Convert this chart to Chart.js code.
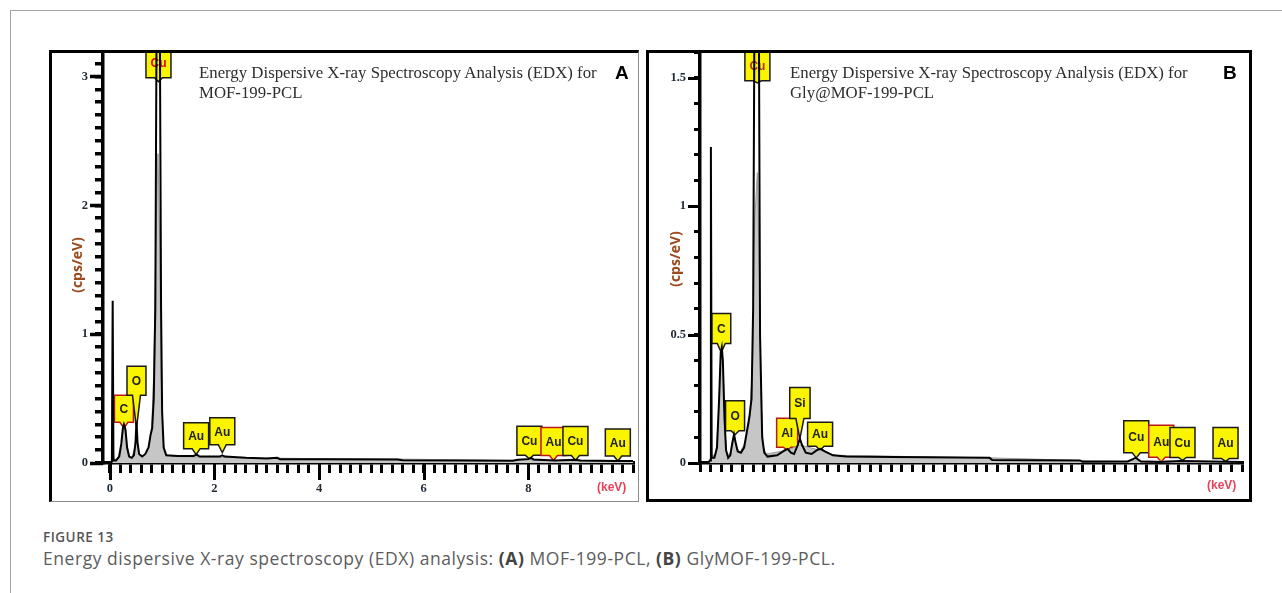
<!DOCTYPE html>
<html lang="en">
<head>
<meta charset="utf-8">
<title>EDX spectra</title>
<script src="https://cdn.jsdelivr.net/npm/chart.js@4.4.1/dist/chart.umd.min.js"></script>
<style>
  html, body { margin: 0; padding: 0; background: #fff; }
  body { position: relative; width: 1282px; height: 593px; overflow: hidden; }
  .sheet { position: absolute; left: 10px; top: 10px; width: 1290px; height: 600px; border-left: 1px solid #a3a3a3; border-top: 1px solid #a3a3a3; }
  canvas { position: absolute; }
  #edxA { left: 49px; top: 50px; }
  #edxB { left: 646px; top: 50px; }
  .frame { position: absolute; box-sizing: border-box; pointer-events: none; }
  #frameA { left: 49px; top: 50px; width: 590px; height: 452px; border-left: 3px solid #000; border-top: 3px solid #000; border-right: 1px solid #8c8c8c; border-bottom: 1px solid #8c8c8c; }
  #frameB { left: 646px; top: 50px; width: 606px; height: 452px; border: 3px solid #000; }
  .heading { position: absolute; top: 63px; font: 16.8px/20px 'Liberation Serif', 'Times New Roman', serif; color: #2e2e2e; white-space: nowrap; }
  .tag { position: absolute; top: 63px; font: bold 19px/20px 'Liberation Sans', Arial, sans-serif; color: #000; }
  .ytitle { position: absolute; width: 100px; height: 18px; margin-left: -50px; margin-top: -9px; text-align: center; font: bold 14px/18px 'Open Sans', sans-serif; color: #9b4a1c; transform: rotate(-90deg); }
  .unit { position: absolute; font: bold 12px/14px 'Liberation Sans', sans-serif; color: #e8415a; }
  .fig-no { position: absolute; left: 43px; top: 529px; font: 600 13.5px/16px 'Open Sans', sans-serif; letter-spacing: 0.5px; color: #555; }
  .caption { position: absolute; left: 43px; top: 547px; font: 17.5px/22px 'Open Sans', sans-serif; letter-spacing: 0.55px; color: #5c5c5c; white-space: nowrap; }
  .caption b { color: #444; }
</style>
</head>
<body>
<div class="sheet"></div>

<canvas id="edxA" width="590" height="452"></canvas>
<div class="frame" id="frameA"></div>
<div class="heading" style="left:199px">Energy Dispersive X-ray Spectroscopy Analysis (EDX) for<br>MOF-199-PCL</div>
<div class="tag" style="left:615px">A</div>
<div class="ytitle" style="left:77px; top:265px">(cps/eV)</div>
<div class="unit" style="left:597px; top:480px">(keV)</div>

<canvas id="edxB" width="606" height="452"></canvas>
<div class="frame" id="frameB"></div>
<div class="heading" style="left:790px">Energy Dispersive X-ray Spectroscopy Analysis (EDX) for<br>Gly@MOF-199-PCL</div>
<div class="tag" style="left:1223px">B</div>
<div class="ytitle" style="left:675px; top:259px">(cps/eV)</div>
<div class="unit" style="left:1207px; top:478px">(keV)</div>

<div class="fig-no">FIGURE 13</div>
<div class="caption">Energy dispersive X-ray spectroscopy (EDX) analysis: <b>(A)</b> MOF-199-PCL, <b>(B)</b> GlyMOF-199-PCL.</div>

<script>
// --- MOF-199-PCL ---
const traceKevA = [0.00, 0.04, 0.055, 0.07, 0.12, 0.18, 0.22, 0.25, 0.27, 0.30, 0.33, 0.37, 0.42, 0.46, 0.49, 0.51, 0.53, 0.56, 0.62, 0.68, 0.74, 0.78, 0.81, 0.84, 0.87, 0.90, 0.95, 0.98, 1.00, 1.03, 1.08, 1.30, 1.60, 1.66, 1.72, 2.10, 2.15, 2.20, 2.60, 3.00, 3.20, 3.25, 3.70, 4.00, 5.50, 5.60, 7.70, 7.80, 8.00, 8.05, 8.10, 8.50, 8.90, 9.00, 9.70, 10.00];
const traceCpsA = [0.00, 0.01, 1.26, 0.02, 0.02, 0.05, 0.15, 0.27, 0.30, 0.26, 0.12, 0.05, 0.04, 0.06, 0.15, 0.32, 0.16, 0.07, 0.05, 0.07, 0.12, 0.22, 0.27, 0.50, 1.20, 4.00, 4.00, 1.20, 0.40, 0.12, 0.06, 0.055, 0.055, 0.065, 0.05, 0.05, 0.06, 0.05, 0.04, 0.035, 0.04, 0.03, 0.03, 0.03, 0.028, 0.022, 0.018, 0.025, 0.03, 0.04, 0.028, 0.02, 0.025, 0.02, 0.015, 0.015];
const shadeKevA = [0.00, 0.04, 0.06, 0.08, 0.15, 0.22, 0.27, 0.31, 0.36, 0.42, 0.48, 0.51, 0.54, 0.58, 0.66, 0.74, 0.80, 0.84, 0.88, 0.92, 0.95, 0.98, 1.01, 1.05, 1.20, 2.00, 2.60, 3.70, 5.60, 7.70, 8.00, 8.10, 10.00];
const shadeCpsA = [0.00, 0.02, 0.10, 0.03, 0.03, 0.15, 0.29, 0.20, 0.06, 0.04, 0.12, 0.26, 0.12, 0.05, 0.06, 0.12, 0.28, 0.70, 1.70, 2.40, 1.80, 0.70, 0.20, 0.07, 0.05, 0.045, 0.04, 0.035, 0.03, 0.02, 0.035, 0.02, 0.012];
const peakNamesA = ['Cu', 'C', 'O', 'Au', 'Au', 'Cu', 'Au', 'Cu', 'Au'];
const peakKevA = [0.93, 0.27, 0.51, 1.65, 2.15, 8.02, 8.48, 8.90, 9.71];
const peakCpsA = [2.96, 0.27, 0.27, 0.065, 0.08, 0.03, 0.02, 0.02, 0.015];

// --- Gly@MOF-199-PCL ---
const traceKevB = [0.00, 0.04, 0.055, 0.07, 0.12, 0.17, 0.21, 0.24, 0.26, 0.28, 0.31, 0.34, 0.38, 0.42, 0.46, 0.49, 0.52, 0.56, 0.62, 0.68, 0.73, 0.78, 0.82, 0.85, 0.88, 0.91, 0.95, 0.98, 1.02, 1.06, 1.12, 1.30, 1.45, 1.50, 1.56, 1.62, 1.69, 1.73, 1.77, 1.84, 1.95, 2.05, 2.12, 2.20, 2.35, 2.60, 3.50, 5.30, 5.35, 7.00, 7.05, 7.90, 8.05, 8.15, 8.50, 8.90, 10.05];
const traceCpsB = [0.00, 0.01, 1.23, 0.02, 0.02, 0.06, 0.25, 0.43, 0.45, 0.40, 0.18, 0.05, 0.02, 0.03, 0.08, 0.11, 0.08, 0.045, 0.04, 0.06, 0.12, 0.18, 0.25, 0.60, 2.00, 2.20, 2.20, 0.50, 0.10, 0.04, 0.025, 0.03, 0.05, 0.055, 0.04, 0.035, 0.07, 0.095, 0.07, 0.04, 0.035, 0.05, 0.055, 0.045, 0.03, 0.025, 0.023, 0.02, 0.012, 0.01, 0.005, 0.006, 0.02, 0.006, 0.004, 0.008, 0.004];
const shadeKevB = [0.00, 0.05, 0.07, 0.15, 0.20, 0.24, 0.26, 0.29, 0.32, 0.36, 0.42, 0.47, 0.50, 0.54, 0.60, 0.70, 0.78, 0.84, 0.88, 0.93, 0.97, 1.00, 1.04, 1.10, 1.50, 1.73, 2.10, 2.40, 5.30, 7.00, 10.05];
const shadeCpsB = [0.00, 0.02, 0.03, 0.03, 0.20, 0.42, 0.44, 0.35, 0.12, 0.03, 0.04, 0.10, 0.11, 0.06, 0.04, 0.08, 0.16, 0.40, 0.95, 1.13, 0.70, 0.25, 0.06, 0.035, 0.05, 0.07, 0.05, 0.03, 0.02, 0.01, 0.005];
const peakNamesB = ['Cu', 'C', 'O', 'Al', 'Si', 'Au', 'Cu', 'Au', 'Cu', 'Au'];
const peakKevB = [0.93, 0.25, 0.51, 1.49, 1.73, 2.11, 8.06, 8.53, 8.93, 9.74];
const peakCpsB = [1.48, 0.43, 0.11, 0.05, 0.095, 0.05, 0.02, 0.005, 0.01, 0.006];

// axis labels
const xTickLabels = [0, 2, 4, 6, 8];
const yTickLabelsA = [0, 1, 2, 3];
const yTickLabelsB = [0, 0.5, 1, 1.5];

// callout look: stem length and box height in px, red outline flag
const calloutA = {
  stem: [4, 6, 33, 6, 8, 4, 5, 5, 5],
  height: [30, 27, 29, 26, 27, 29, 28, 29, 27],
  red: [false, true, false, false, false, false, true, false, false],
  topText: '#e8001c'
};
const calloutB = {
  stem: [2, 9, 4, 3, 20, 4, 5, 4.5, 3, 3],
  height: [30, 30, 30, 29, 31, 24, 32, 32, 30, 31],
  red: [false, false, false, true, false, false, false, true, false, false],
  topText: '#b0302a'
};

function zip(xs, ys) {
  return xs.map((x, i) => ({ x: x, y: ys[i] }));
}

function sameValue(list, v) {
  return list.some(t => Math.abs(t - v) < 1e-6);
}

// longer marks for the labelled ticks
const majorTicks = {
  id: 'majorTicks',
  afterDraw(chart, args, opts) {
    const ctx = chart.ctx;
    const { x, y } = chart.scales;
    ctx.save();
    ctx.strokeStyle = '#000';
    ctx.lineCap = 'butt';
    ctx.lineWidth = opts.xWidth;
    x.ticks.forEach(t => {
      if (!sameValue(xTickLabels, t.value)) return;
      const px = Math.round(x.getPixelForValue(t.value)) + 0.5;
      ctx.beginPath();
      ctx.moveTo(px, y.bottom);
      ctx.lineTo(px, y.bottom + opts.xLength);
      ctx.stroke();
    });
    ctx.lineWidth = opts.yWidth;
    y.ticks.forEach(t => {
      if (!sameValue(opts.yLabels, t.value)) return;
      const py = Math.round(y.getPixelForValue(t.value)) + 0.5;
      ctx.beginPath();
      ctx.moveTo(x.left, py);
      ctx.lineTo(x.left - opts.yLength, py);
      ctx.stroke();
    });
    ctx.restore();
  }
};

// yellow element tags pointing at the peaks
const peakTags = {
  id: 'peakTags',
  beforeDatasetsDraw(chart, args, opts) {
    const ctx = chart.ctx;
    const { x, y } = chart.scales;
    const look = opts.look;
    ctx.save();
    ctx.font = 'bold 12px "Liberation Sans", Arial, sans-serif';
    ctx.textAlign = 'center';
    ctx.textBaseline = 'middle';
    opts.names.forEach((name, i) => {
      const px = x.getPixelForValue(opts.kev[i]);
      const tipY = y.getPixelForValue(opts.cps[i]);
      const bottom = tipY - look.stem[i];
      const top = bottom - look.height[i];
      const w = Math.max(19, ctx.measureText(name).width + 9);
      const l = px - w / 2, r = px + w / 2;
      const half = 4;
      ctx.beginPath();
      ctx.moveTo(l, top);
      ctx.lineTo(r, top);
      ctx.lineTo(r, bottom);
      ctx.lineTo(px + half, bottom);
      ctx.lineTo(px, tipY);
      ctx.lineTo(px - half, bottom);
      ctx.lineTo(l, bottom);
      ctx.closePath();
      ctx.fillStyle = '#fbf400';
      ctx.fill();
      ctx.lineWidth = 1.5;
      ctx.strokeStyle = look.red[i] ? '#c0151b' : '#1a1a1a';
      ctx.stroke();
      ctx.fillStyle = i === 0 ? look.topText : '#222';
      ctx.fillText(name, px, (top + bottom) / 2 + 1);
    });
    ctx.restore();
  }
};

function drawSpectrum(id, set) {
  return new Chart(document.getElementById(id), {
    type: 'line',
    data: {
      datasets: [
        {
          data: zip(set.traceKev, set.traceCps),
          borderColor: '#000',
          borderWidth: 2,
          pointRadius: 0,
          fill: false,
          order: 0
        },
        {
          data: zip(set.shadeKev, set.shadeCps),
          borderColor: '#9a9a9a',
          borderWidth: 1,
          backgroundColor: '#c6c6c6',
          pointRadius: 0,
          fill: 'origin',
          order: 1
        }
      ]
    },
    options: {
      responsive: false,
      animation: false,
      events: [],
      layout: { padding: { left: 0, top: 2, right: set.padRight, bottom: 0 } },
      plugins: {
        legend: { display: false },
        tooltip: { enabled: false },
        majorTicks: set.major,
        peakTags: { names: set.peakNames, kev: set.peakKev, cps: set.peakCps, look: set.look }
      },
      scales: {
        x: {
          type: 'linear',
          min: set.xMin,
          max: set.xMax,
          afterFit(s) { s.height = 39; s.paddingLeft = 0; s.paddingRight = 0; },
          border: { display: true, color: '#000', width: 3.5 },
          grid: { display: true, drawOnChartArea: false, drawTicks: true, tickLength: set.xTick, lineWidth: 3, tickWidth: 3, color: '#000', tickColor: '#000' },
          ticks: {
            stepSize: 0.2,
            includeBounds: false,
            autoSkip: false,
            maxRotation: 0,
            padding: 8,
            color: '#1f2a36',
            font: { family: 'Liberation Serif', size: 12.5, weight: 'bold' },
            callback: v => sameValue(xTickLabels, v) ? String(Math.round(v)) : ''
          }
        },
        y: {
          min: 0,
          max: set.yMax,
          afterFit(s) { s.width = 54; s.paddingTop = 0; s.paddingBottom = 0; },
          border: { display: true, color: '#000', width: 3.5 },
          grid: { display: true, drawOnChartArea: false, drawTicks: true, tickLength: set.yTick, lineWidth: set.yTickWidth, tickWidth: set.yTickWidth, color: '#000', tickColor: '#000' },
          ticks: {
            stepSize: 0.1,
            includeBounds: false,
            autoSkip: false,
            padding: set.yPad,
            color: '#1f2a36',
            font: { family: 'Liberation Serif', size: 12.5, weight: 'bold' },
            callback: v => sameValue(set.yLabels, v) ? String(Math.round(v * 10) / 10) : ''
          }
        }
      }
    },
    plugins: [majorTicks, peakTags]
  });
}

drawSpectrum('edxA', {
  traceKev: traceKevA, traceCps: traceCpsA, shadeKev: shadeKevA, shadeCps: shadeCpsA,
  peakNames: peakNamesA, peakKev: peakKevA, peakCps: peakCpsA, look: calloutA,
  xMin: -0.13, xMax: 10, yMax: 3.19, padRight: 6,
  xTick: 10, yTick: 8, yTickWidth: 3.5, yPad: 7, yLabels: yTickLabelsA,
  major: { xLength: 17, xWidth: 3, yLength: 13, yWidth: 3.5, yLabels: yTickLabelsA }
});

drawSpectrum('edxB', {
  traceKev: traceKevB, traceCps: traceCpsB, shadeKev: shadeKevB, shadeCps: shadeCpsB,
  peakNames: peakNamesB, peakKev: peakKevB, peakCps: peakCpsB, look: calloutB,
  xMin: -0.15, xMax: 10.05, yMax: 1.6, padRight: 10,
  xTick: 9, yTick: 6, yTickWidth: 3, yPad: 8, yLabels: yTickLabelsB,
  major: { xLength: 15, xWidth: 3, yLength: 12, yWidth: 3, yLabels: yTickLabelsB }
});
</script>
</body>
</html>
